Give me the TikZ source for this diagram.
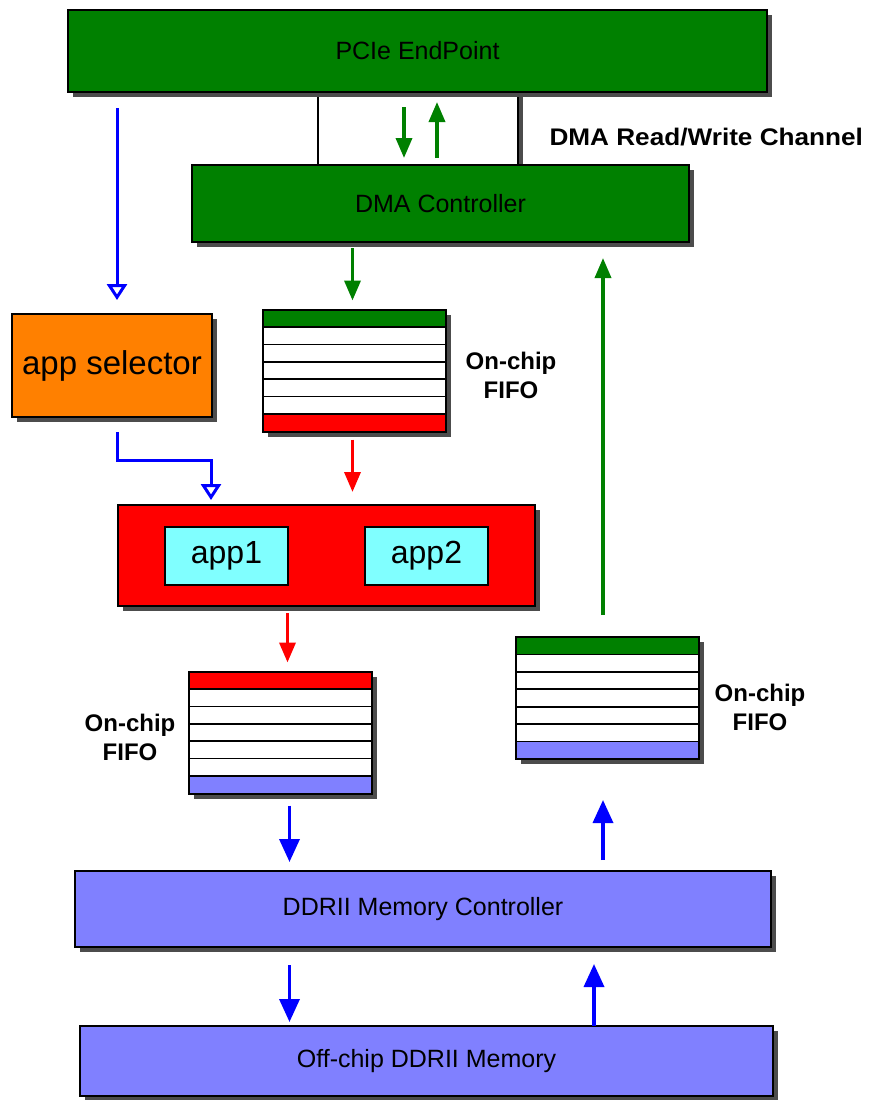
\documentclass[tikz,border=0pt]{standalone}
\usepackage{fontspec}
\setmainfont{Liberation Sans}
\usetikzlibrary{arrows.meta,shadows,calc}
\definecolor{pcigreen}{HTML}{008000}
\definecolor{appred}{HTML}{FF0000}
\definecolor{selorange}{HTML}{FF8000}
\definecolor{appcyan}{HTML}{80FFFF}
\definecolor{memblue}{HTML}{8080FF}
\definecolor{linkblue}{HTML}{0000FF}

\begin{document}
\begin{tikzpicture}[x=1pt,y=-1pt,
    box/.style={draw, line width=2pt, outer sep=0pt, inner sep=0pt,
      drop shadow={shadow xshift=5pt, shadow yshift=-5pt, fill=black!70, opacity=1},
      font=\fontsize{25}{30}\selectfont},
    appbox/.style={draw, line width=2pt, outer sep=0pt, fill=appcyan,
      minimum width=123pt, minimum height=58pt, font=\fontsize{32}{38}\selectfont},
    fifo/.style={box, fill=white, minimum width=183pt, minimum height=122pt},
    lbl/.style={align=center, font=\fontsize{24}{29}\selectfont\bfseries},
    arrow/.style={line width=3.5pt, -{Triangle[length=20pt,width=16pt]}},
    bigarrow/.style={line width=3.5pt, linkblue, -{Triangle[length=23pt,width=20pt]}},
    openarrow/.style={line width=3pt, linkblue, -{Triangle[open,fill=white,length=16pt,width=20pt]}}
  ]
  \useasboundingbox (0,0) rectangle (868,1100);

  % top: endpoint, channel and DMA
  \node[box, fill=white, minimum width=200pt, minimum height=73pt] (chan) at (418,128.5) {};
  \node[box, fill=pcigreen, minimum width=699pt, minimum height=82pt] (pcie) at (417.5,51) {PCIe EndPoint};
  \node[box, fill=pcigreen, minimum width=497pt, minimum height=77pt] (dma) at (440.5,203.5) {DMA Controller};
  \node[lbl, anchor=west] (chanlbl) at (546,137) {\scalebox{1.09}[1]{DMA Read/Write Channel}};

  % selector and apps
  \node[box, fill=selorange, minimum width=200pt, minimum height=103pt,
    font=\fontsize{33}{38}\selectfont] (sel) at (112,365.5) {app selector};
  \node[box, fill=appred, minimum width=417pt, minimum height=101pt] (apps) at (326.5,555.5) {};
  \node[appbox] (appA) at (226.5,556) {app1};
  \node[appbox] (appB) at (426.5,556) {app2};

  % fifos
  \node[fifo] (fifoA) at (354.5,370.5) {};
  \node[fifo] (fifoB) at (280.5,732.5) {};
  \node[fifo] (fifoC) at (607.5,698) {};
  \foreach \f/\tc/\bc in {fifoA/pcigreen/appred, fifoB/appred/memblue, fifoC/pcigreen/memblue} {
    \fill[\tc] (\f.north west) rectangle ($(\f.north east)!1/7!(\f.south east)$);
    \fill[\bc] ($(\f.north west)!6/7!(\f.south west)$) rectangle (\f.south east);
    \foreach \i in {1,...,6}
      \draw[line width=1.6pt] ($(\f.north west)!\i/7!(\f.south west)$) -- ($(\f.north east)!\i/7!(\f.south east)$);
    \draw[line width=2pt] (\f.north west) rectangle (\f.south east);
  }
  \node[lbl] (fifoAlbl) at (511,375) {On-chip\\FIFO};
  \node[lbl] (fifoBlbl) at (130,737) {On-chip\\FIFO};
  \node[lbl] (fifoClbl) at (760,707) {On-chip\\FIFO};

  % memory
  \node[box, fill=memblue, minimum width=696pt, minimum height=76pt] (ddrc) at (423,909) {DDRII Memory Controller};
  \node[box, fill=memblue, minimum width=693pt, minimum height=70pt] (ddr) at (426.5,1061) {Off-chip DDRII Memory};

  % connectors
  \draw[arrow, pcigreen] ([xshift=-14pt,yshift=-15pt]chan.north) -- ([xshift=-14pt,yshift=7pt]chan.south);
  \draw[arrow, pcigreen] ([xshift=19pt,yshift=7pt]chan.south) -- ([xshift=19pt,yshift=-10pt]chan.north);
  \draw[arrow, pcigreen, shorten <=6pt, shorten >=9pt] ([xshift=-2pt]fifoA.north |- dma.south) -- ([xshift=-2pt]fifoA.north);
  \draw[arrow, appred, shorten <=8pt, shorten >=13pt] ([xshift=-2pt]fifoA.south) -- ([xshift=-2pt]fifoA.south |- apps.north);
  \draw[arrow, appred, shorten <=7pt, shorten >=9pt] ([xshift=7pt]fifoB.north |- apps.south) -- ([xshift=7pt]fifoB.north);
  \draw[openarrow, shorten <=16pt, shorten >=14pt] ([xshift=5pt]sel.north |- pcie.south) -- ([xshift=5pt]sel.north);
  \draw[openarrow] ([xshift=5pt,yshift=-15pt]sel.south) |- ([xshift=-115.5pt,yshift=45pt]apps.north)
    -- ([xshift=-115.5pt,yshift=5pt]apps.north);
  \draw[bigarrow, shorten <=12pt, shorten >=9pt] ([xshift=9pt]fifoB.south) -- ([xshift=9pt]fifoB.south |- ddrc.north);
  \draw[bigarrow, shorten <=18pt, shorten >=4pt] ([xshift=9pt]fifoB.south |- ddrc.south) -- ([xshift=9pt]fifoB.south |- ddr.north);
  \draw[bigarrow, shorten >=17pt] ([xshift=-13.5pt]fifoC.south |- ddr.north) -- ([xshift=-13.5pt]fifoC.south |- ddrc.south);
  \draw[bigarrow, shorten <=11pt, shorten >=41pt] ([xshift=-4.5pt]fifoC.south |- ddrc.north) -- ([xshift=-4.5pt]fifoC.south);
  \draw[arrow, pcigreen, shorten <=22pt, shorten >=16pt] ([xshift=-4.5pt]fifoC.north) -- ([xshift=-4.5pt]fifoC.north |- dma.south);
\end{tikzpicture}
\end{document}
